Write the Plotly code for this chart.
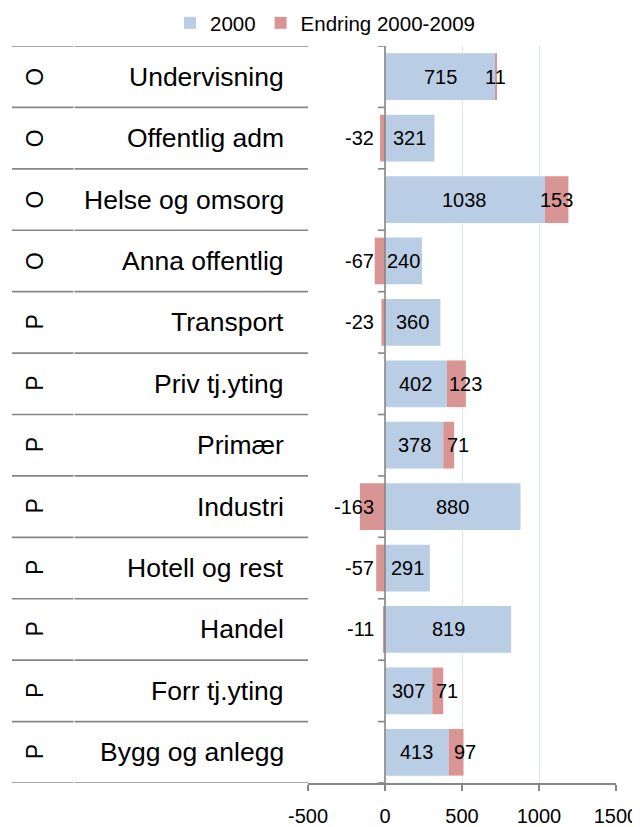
import plotly.graph_objects as go

categories = ["Undervisning", "Offentlig adm", "Helse og omsorg", "Anna offentlig",
              "Transport", "Priv tj.yting", "Primær", "Industri", "Hotell og rest",
              "Handel", "Forr tj.yting", "Bygg og anlegg"]
sector = ["O", "O", "O", "O", "P", "P", "P", "P", "P", "P", "P", "P"]
v2000 = [715, 321, 1038, 240, 360, 402, 378, 880, 291, 819, 307, 413]
endring = [11, -32, 153, -67, -23, 123, 71, -163, -57, -11, 71, 97]
x_ticks = [-500, 0, 500, 1000, 1500]
x_ticktext = ["-500", "0", "500", "1000", "1500"]

BLUE = "#B9CDE5"
RED = "#D99594"
GRAY = "#868686"
GRID = "#DCE6F2"
FONT = "Liberation Sans, Arial, sans-serif"

# page has an 8px body margin; figure is sized/positioned to compensate
OFF = 8
FIG_W, FIG_H = 640 - OFF, 827 - OFF
PLOT_L, PLOT_R = 308, 616      # page px
PLOT_T, PLOT_B = 46, 783       # page px
W = float(PLOT_R - PLOT_L)
H = float(PLOT_B - PLOT_T)

def px2paper(px):
    return (px - PLOT_L) / W

fig = go.Figure()
fig.add_trace(go.Bar(y=categories, x=v2000, orientation="h", name="2000",
                     marker=dict(color=BLUE, line=dict(width=0)), width=0.76))
fig.add_trace(go.Bar(y=categories, x=endring, orientation="h", name="Endring 2000-2009",
                     marker=dict(color=RED, line=dict(width=0)), width=0.76))

ann = []
shapes = []
for c, s, a, e in zip(categories, sector, v2000, endring):
    ann.append(dict(x=a / 2, y=c, text=str(a), showarrow=False, xanchor="center",
                    font=dict(size=20, color="black", family=FONT)))
    if e >= 0:
        ann.append(dict(x=a + e / 2, y=c, text=str(e), showarrow=False, xanchor="center",
                        xshift=9 if 20 < e < 130 else 0,
                        font=dict(size=20, color="black", family=FONT)))
    else:
        ann.append(dict(x=0, y=c, text=str(e), showarrow=False, xanchor="right",
                        xshift=-9, font=dict(size=20, color="black", family=FONT)))
    ann.append(dict(x=px2paper(286), xref="paper", y=c, text=c, showarrow=False,
                    xanchor="right", font=dict(size=26.5, color="black", family=FONT)))
    ann.append(dict(x=px2paper(35), xref="paper", y=c, text=s, showarrow=False,
                    xanchor="center", yanchor="middle",
                    textangle=-90, font=dict(size=23, color="black", family=FONT)))

n = len(categories)
for k in range(n + 1):
    yb = k - 0.5
    shapes.append(dict(type="line", xref="paper", yref="y", x0=px2paper(12), x1=px2paper(73.5),
                       y0=yb, y1=yb, line=dict(color=GRAY, width=1.6)))
    shapes.append(dict(type="line", xref="paper", yref="y", x0=px2paper(74.5), x1=0,
                       y0=yb, y1=yb, line=dict(color=GRAY, width=1.6)))
    shapes.append(dict(type="line", xref="paper", yref="y",
                       x0=px2paper(378), x1=px2paper(385), y0=yb, y1=yb,
                       line=dict(color=GRAY, width=1.6)))
# vertical axis at 0
shapes.append(dict(type="line", xref="x", yref="paper", x0=0, x1=0, y0=0, y1=1,
                   line=dict(color=GRAY, width=1.6)))

fig.update_layout(
    width=FIG_W, height=FIG_H,
    margin=dict(l=PLOT_L - OFF, r=FIG_W - (PLOT_R - OFF), t=PLOT_T - OFF,
                b=FIG_H - (PLOT_B - OFF), autoexpand=False),
    paper_bgcolor="white", plot_bgcolor="white",
    barmode="relative",
    font=dict(family=FONT, size=20, color="black"),
    showlegend=True,
    legend=dict(orientation="h", x=(170 - OFF) / FIG_W, xref="container", xanchor="left",
                y=1 + (PLOT_T - 23) / H, yref="paper", yanchor="middle",
                font=dict(size=20.5, family=FONT), traceorder="normal",
                bgcolor="rgba(0,0,0,0)"),
    annotations=ann,
    shapes=shapes,
    xaxis=dict(range=[-500, 1500], tickvals=x_ticks, ticktext=x_ticktext,
               showgrid=True, gridcolor=GRID, automargin=False,
               gridwidth=1.3, zeroline=False, showline=True, linecolor=GRAY, linewidth=1.6,
               ticks="outside", ticklen=6, tickcolor=GRAY, tickwidth=1.6,
               ticklabelstandoff=8,
               tickfont=dict(size=20, family=FONT, color="black"), fixedrange=True),
    yaxis=dict(showticklabels=False, showgrid=False, automargin=False,
               zeroline=False, showline=False, autorange=False, range=[n - 0.5, -0.5]),
)

fig.write_html("out.html")
